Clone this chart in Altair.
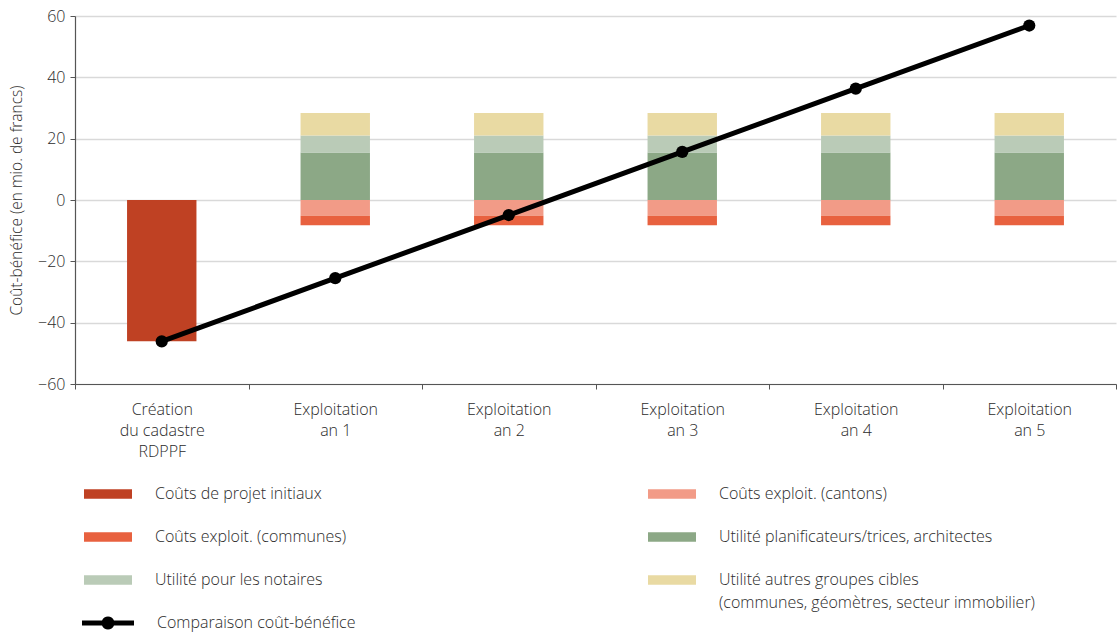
import altair as alt
import pandas as pd

categories = ["Création|du cadastre|RDPPF", "Exploitation|an 1", "Exploitation|an 2",
              "Exploitation|an 3", "Exploitation|an 4", "Exploitation|an 5"]

series_names = [
    "Coûts de projet initiaux",
    "Coûts exploit. (cantons)",
    "Coûts exploit. (communes)",
    "Utilité planificateurs/trices, architectes",
    "Utilité pour les notaires",
    "Utilité autres groupes cibles|(communes, géomètres, secteur immobilier)",
]
series_colors = ["#BF4123", "#F29B87", "#E8613F", "#8CA886", "#BACBB7", "#E9DAA3"]
stack_order = [1, 1, 2, 1, 2, 3]

couts_projet = [-46.1, None, None, None, None, None]
couts_cantons = [None, -5.1, -5.1, -5.1, -5.1, -5.1]
couts_communes = [None, -3.1, -3.1, -3.1, -3.1, -3.1]
util_planif = [None, 15.5, 15.5, 15.5, 15.5, 15.5]
util_notaires = [None, 5.5, 5.5, 5.5, 5.5, 5.5]
util_autres = [None, 7.4, 7.4, 7.4, 7.4, 7.4]

line_name = "Comparaison coût-bénéfice"
comparaison = [-46.1, -25.5, -4.9, 15.7, 36.3, 56.9]

series_values = [couts_projet, couts_cantons, couts_communes, util_planif, util_notaires, util_autres]

rows = []
for name, order, vals in zip(series_names, stack_order, series_values):
    for cat, v in zip(categories, vals):
        if v is not None:
            rows.append({"cat": cat, "serie": name, "value": v, "ord": order})
bars_df = pd.DataFrame(rows)
line_df = pd.DataFrame({"cat": categories, "value": comparaison, "serie": [line_name] * len(categories)})

FONT = "Open Sans"
TXT = "#2b2b2b"
WEIGHT = 300

x_enc = alt.X("cat:N", sort=categories,
              scale=alt.Scale(paddingInner=0, paddingOuter=0),
              axis=alt.Axis(title=None, labelExpr="split(datum.label, '|')", labelAngle=0,
                            tickBand="extent", grid=False, labelPadding=12,
                            labelLineHeight=21))
y_scale = alt.Scale(domain=[-60, 60], nice=False)
y_axis = alt.Axis(values=[-60, -40, -20, 0, 20, 40, 60],
                  title="Coût-bénéfice (en mio. de francs)", titlePadding=13)

bars = alt.Chart(bars_df).mark_bar(width={"band": 0.4}).encode(
    x=x_enc,
    y=alt.Y("sum(value):Q", scale=y_scale, axis=y_axis, stack="zero"),
    color=alt.Color("serie:N", scale=alt.Scale(domain=series_names, range=series_colors),
                    legend=alt.Legend(title=None, orient="none", legendX=9, legendY=454,
                                      columns=2, direction="horizontal",
                                      columnPadding=301, rowPadding=11,
                                      symbolType="M-1,-0.2H1V0.2H-1Z", symbolSize=2304,
                                      symbolStrokeWidth=0, labelOffset=23,
                                      labelExpr="split(datum.label, '|')",
                                      labelLimit=500)),
    order=alt.Order("ord:Q"),
)

line = alt.Chart(line_df).mark_line(color="black", strokeWidth=5).encode(
    x=alt.X("cat:N", sort=categories),
    y=alt.Y("value:Q", scale=y_scale),
)

points = alt.Chart(line_df).mark_point(filled=True, size=150, opacity=1).encode(
    x=alt.X("cat:N", sort=categories),
    y=alt.Y("value:Q", scale=y_scale),
    color=alt.Color("serie:N", scale=alt.Scale(domain=[line_name], range=["black"]),
                    legend=alt.Legend(title=None, orient="none", legendX=7, legendY=581,
                                      symbolType="M-1,-0.1H-0.23A0.25,0.25 0 0 1 0.23,-0.1H1V0.1H0.23A0.25,0.25 0 0 1 -0.23,0.1H-1Z",
                                      symbolSize=2704, symbolStrokeWidth=0,
                                      symbolFillColor="black", symbolOpacity=1,
                                      labelOffset=23, labelLimit=500)),
)

chart = alt.layer(bars, line, points).resolve_scale(color="independent").properties(
    width=1041, height=368,
    autosize=alt.AutoSizeParams(type="none"),
    padding={"left": 75, "top": 16, "right": 1, "bottom": 249},
).configure(
    style={"guide-label": {"lineHeight": 23}},
).configure_view(stroke=None).configure_axis(
    labelFont=FONT, titleFont=FONT, labelFontSize=16, titleFontSize=15.5,
    labelFontWeight=WEIGHT, titleFontWeight=WEIGHT,
    labelColor=TXT, titleColor=TXT,
    domainColor="#555555", tickColor="#555555", tickSize=5, domainWidth=1.2,
    gridColor="#d9d9d9", gridWidth=1.3,
).configure_axisY(labelPadding=5).configure_legend(
    labelFont=FONT, labelFontSize=16, labelColor=TXT, labelFontWeight=WEIGHT,
)

chart.save("out.html", embed_options={"renderer": "svg", "actions": False})
